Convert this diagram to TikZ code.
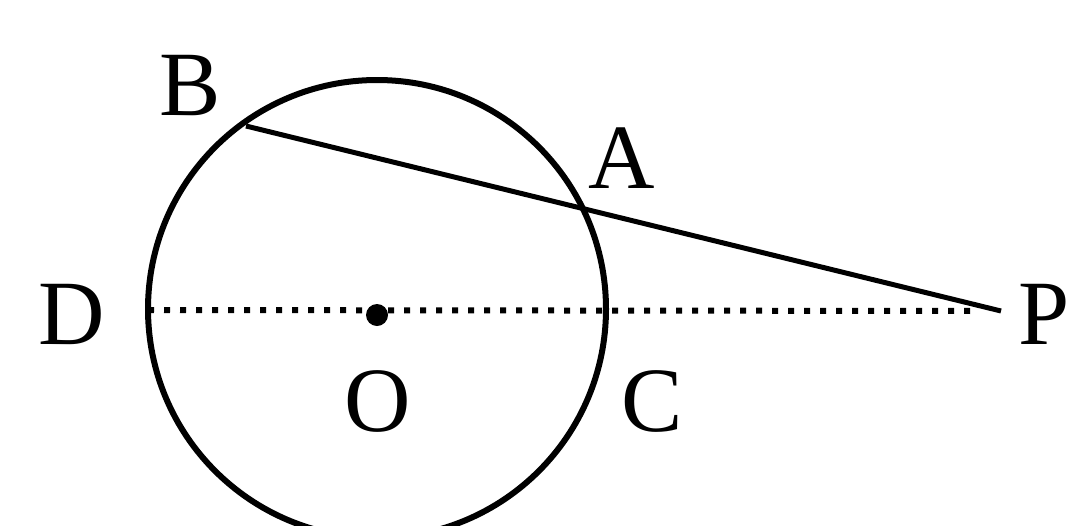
\documentclass[tikz,border=0pt]{standalone}
\usepackage{fontspec}
\setmainfont{Liberation Serif}
\begin{document}
\begin{tikzpicture}[x=1pt,y=-1pt,
  lbl/.style={font=\fontsize{92}{92}\selectfont, inner sep=0pt},
  thick line/.style={line width=6pt}]
\useasboundingbox (0,0) rectangle (1083,525);
\clip (0,0) rectangle (1083,525);
\coordinate (O) at (377,309);
\coordinate (D) at (148,310);
\coordinate (B) at (246,126);
\coordinate (P) at (1001,311);
\coordinate (Pd) at (975,311);
\draw[thick line] (O) circle[radius=229];
\draw[line width=6pt, dash pattern=on 6pt off 10pt] (D) -- (Pd);
\draw[line width=5pt] (B) -- (P);
\fill (377,315) circle[radius=11];
\node[lbl] (lB) at (190,86) {B};
\node[lbl] (lA) at (622,158) {A};
\node[lbl] (lD) at (72,314) {D};
\node[lbl] (lO) at (378,401) {O};
\node[lbl] (lC) at (652,401) {C};
\node[lbl] (lP) at (1044,314) {P};
\end{tikzpicture}
\end{document}
